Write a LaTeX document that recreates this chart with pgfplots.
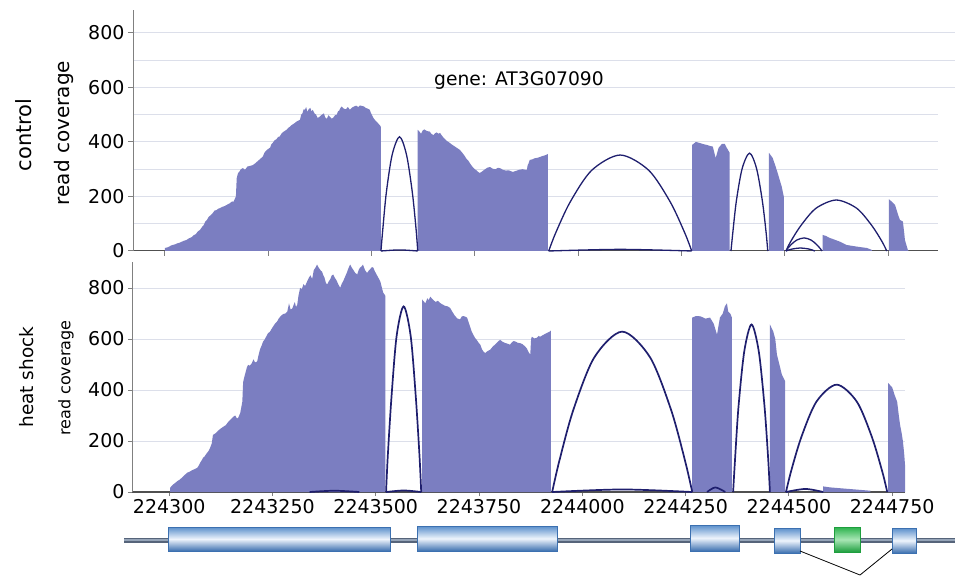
\documentclass[border=0pt]{standalone}
\usepackage{fontspec}
\setmainfont{DejaVu Sans}
\usepackage{pgfplots}
\pgfplotsset{compat=1.18}
\definecolor{cov}{HTML}{7B7EC1}
\definecolor{arcc}{HTML}{1F1F6E}
\definecolor{grd}{HTML}{DCDFEA}
\definecolor{axl}{HTML}{808080}
\definecolor{axx}{HTML}{505050}
\definecolor{exA}{HTML}{5A8FCB}
\definecolor{exB}{HTML}{EEF4FC}
\definecolor{exC}{HTML}{3C70B0}
\definecolor{gnA}{HTML}{2BB24C}
\definecolor{gnB}{HTML}{A8E6B5}
\definecolor{gnC}{HTML}{1E9E3E}
\definecolor{intr}{HTML}{56647A}
\definecolor{intrL}{HTML}{95A4B8}

\begin{document}
\begin{tikzpicture}
% ---------- frame in pixel units: labels and gene model ----------
\begin{axis}[at={(0pt,0pt)}, anchor=south west, scale only axis,
  width=955pt, height=576pt, xmin=0, xmax=955, ymin=0, ymax=576,
  y dir=reverse, hide axis, clip=false]
\node[rotate=90, font=\fontsize{21}{24}\selectfont] at (axis cs:24,135) {control};
\node[rotate=90, font=\fontsize{20}{24}\selectfont] at (axis cs:64,133) {read coverage};
\node[rotate=90, font=\fontsize{18.5}{22}\selectfont] at (axis cs:27,377) {heat shock};
\node[rotate=90, font=\fontsize{16}{20}\selectfont] at (axis cs:66,378) {read coverage};
% gene model
\addplot[intr, line width=5pt] coordinates {(124,540) (955,540)};
\addplot[intrL, line width=1.2pt] coordinates {(124,540) (955,540)};
\addplot[draw=exC, line width=0.4pt, top color=exA, bottom color=exC, middle color=exB]
  coordinates {(168,527) (390,527) (390,551) (168,551)} --cycle;
\addplot[draw=exC, line width=0.4pt, top color=exA, bottom color=exC, middle color=exB]
  coordinates {(417,526) (557,526) (557,551) (417,551)} --cycle;
\addplot[draw=exC, line width=0.4pt, top color=exA, bottom color=exC, middle color=exB]
  coordinates {(690,525) (739,525) (739,551) (690,551)} --cycle;
\addplot[draw=exC, line width=0.4pt, top color=exA, bottom color=exC, middle color=exB]
  coordinates {(774,528) (800,528) (800,553) (774,553)} --cycle;
\addplot[draw=gnC, line width=0.4pt, top color=gnA, bottom color=gnC, middle color=gnB]
  coordinates {(834,527) (860,527) (860,552) (834,552)} --cycle;
\addplot[draw=exC, line width=0.4pt, top color=exA, bottom color=exC, middle color=exB]
  coordinates {(892,528) (916,528) (916,553) (892,553)} --cycle;
\addplot[black, line width=0.8pt] coordinates {(800,551) (860,575) (892,549)};
\end{axis}

% ---------- control panel ----------
\begin{axis}[at={(133pt,325pt)}, anchor=south west, scale only axis,
  width=805pt, height=241pt,
  xmin=-77, xmax=1871, ymin=0, ymax=884,
  axis x line=bottom, axis y line=left,
  x axis line style={axx, line width=1pt, -},
  y axis line style={axl, line width=1pt, -},
  xtick={0,250,500,750,1000,1250,1500,1750}, xticklabels={},
  ytick={0,200,400,600,800}, minor ytick={100,300,500,700},
  ymajorgrids, yminorgrids,
  major grid style={grd, line width=1pt}, minor grid style={grd, line width=1pt},
  tick align=outside, major tick length=5pt, minor tick length=0pt,
  tick style={axl, line width=1pt},
  tick label style={font=\fontsize{19}{22}\selectfont},
  /pgf/number format/assume math mode=true,
  clip=false]
\draw[grd, line width=1pt] (axis cs:1871,600) -- ++(17pt,0);
\draw[grd, line width=1pt] (axis cs:1871,700) -- ++(17pt,0);
\draw[grd, line width=1pt] (axis cs:1871,800) -- ++(17pt,0);
\node[font=\fontsize{18.7}{22}\selectfont] at (axis cs:857,627) {gene: AT3G07090};
% coverage
\addplot[fill=cov, draw=none] coordinates {(0,0) (0,11) (8,14) (15,20) (19,22) (26,25) (30,28) (37,31) (41,34) (47,38) (52,40) (58,46) (65,51) (70,58) (75,62) (80,72) (85,77) (90,88) (94,95) (98,108) (102,114) (106,125) (110,130) (116,139) (120,148) (125,150) (129,155) (133,157) (139,162) (145,165) (151,170) (157,175) (163,182) (166,180) (169,190) (172,200) (174,267) (177,285) (180,290) (184,300) (189,304) (194,298) (200,310) (206,312) (213,315) (219,322) (225,330) (231,338) (237,346) (241,360) (245,368) (248,372) (252,376) (255,380) (258,392) (261,396) (265,405) (270,410) (274,418) (278,420) (282,430) (286,436) (290,440) (295,445) (299,452) (303,456) (307,462) (311,466) (315,470) (319,475) (323,478) (327,481) (330,500) (333,505) (336,520) (339,518) (342,528) (345,510) (348,520) (352,525) (355,512) (358,518) (362,505) (366,500) (370,488) (375,493) (380,500) (385,505) (388,490) (392,485) (396,498) (399,493) (404,485) (408,490) (412,498) (416,500) (419,512) (422,515) (425,525) (428,530) (433,522) (438,520) (443,528) (448,518) (453,526) (458,530) (463,533) (468,528) (472,534) (477,532) (482,530) (486,525) (491,522) (496,518) (499,505) (503,493) (506,485) (510,478) (515,470) (520,462) (523,455) (523,0)} --cycle;
\addplot[fill=cov, draw=none] coordinates {(612,0) (612,444) (616,438) (620,430) (624,442) (628,446) (634,440) (641,438) (645,430) (650,425) (654,432) (658,435) (662,430) (666,433) (672,420) (678,410) (684,402) (690,396) (695,390) (700,385) (707,378) (714,371) (720,360) (725,350) (730,338) (735,330) (740,318) (745,308) (750,300) (755,295) (758,290) (762,286) (768,292) (775,300) (781,306) (787,308) (793,302) (800,300) (806,305) (811,304) (818,298) (825,295) (832,296) (842,290) (850,294) (858,298) (866,300) (876,297) (878,315) (880,320) (883,334) (889,336) (895,340) (902,342) (908,345) (913,348) (918,350) (922,352) (927,356) (927,0)} --cycle;
\addplot[fill=cov, draw=none] coordinates {(1276,0) (1276,389) (1285,400) (1295,396) (1303,392) (1312,389) (1320,385) (1326,383) (1333,341) (1340,378) (1348,393) (1355,393) (1360,378) (1367,360) (1367,0)} --cycle;
\addplot[fill=cov, draw=none] coordinates {(1462,0) (1462,360) (1471,341) (1478,310) (1483,286) (1493,235) (1498,198) (1498,0)} --cycle;
\addplot[fill=cov, draw=none] coordinates {(1592,0) (1592,59) (1600,55) (1609,48) (1620,42) (1634,34) (1650,22) (1675,16) (1699,11) (1711,4) (1711,0)} --cycle;
\addplot[fill=cov, draw=none] coordinates {(1752,0) (1752,190) (1760,180) (1767,169) (1775,130) (1779,114) (1786,108) (1789,70) (1791,40) (1798,4) (1800,0)} --cycle;
% junction arcs
\addplot[arcc, line width=1.3pt, smooth] coordinates {(523,0) (527.5,80) (536,214) (550,352) (568,419) (585,352) (599,214) (608,80) (612,0)};
\addplot[arcc, line width=1.3pt, smooth] coordinates {(929,0) (946,67) (981,180) (1033,296) (1102,352) (1171,296) (1223,180) (1258,67) (1275,0)};
\addplot[arcc, line width=1.3pt, smooth] coordinates {(1370,0) (1374.5,68) (1383,183) (1397,302) (1415,359) (1432,302) (1446,183) (1455,68) (1459,0)};
\addplot[arcc, line width=1.3pt, smooth] coordinates {(1503,0) (1515,36) (1540,95) (1576,157) (1625,187) (1674,157) (1710,95) (1735,36) (1747,0)};
\addplot[arcc, line width=1.3pt, smooth] coordinates {(1503,0) (1507,9) (1516,24) (1529,40) (1547,48) (1564,40) (1577,24) (1586,9) (1590,0)};
\addplot[arcc, line width=1.3pt, smooth] coordinates {(1503,0) (1510,4) (1521,8) (1538,11) (1556,8) (1566,4) (1573,0)};
\addplot[arcc, line width=1.3pt, smooth] coordinates {(929,0) (1102,6) (1275,0)};
\addplot[arcc, line width=1.3pt, smooth] coordinates {(523,0) (568,4) (612,0)};
\end{axis}

% ---------- heat shock panel ----------
\begin{axis}[at={(132pt,84pt)}, anchor=south west, scale only axis,
  width=773pt, height=230pt,
  xmin=-90, xmax=1781, ymin=0, ymax=902,
  axis x line=bottom, axis y line=left,
  x axis line style={axx, line width=1.2pt, -},
  y axis line style={axl, line width=1pt, -},
  xtick={0,250,500,750,1000,1250,1500,1750},
  xticklabels={224300,2243250,2243500,2243750,2244000,2244250,2244500,2244750},
  ytick={0,200,400,600,800},
  ymajorgrids,
  major grid style={grd, line width=1pt},
  tick align=outside, major tick length=4pt,
  tick style={axl, line width=1pt},
  tick label style={font=\fontsize{19}{22}\selectfont},
  /pgf/number format/assume math mode=true]
\addplot[fill=cov, draw=none] coordinates {(2,0) (2,16) (6,24) (10,30) (15,36) (19,42) (25,48) (30,55) (37,66) (44,76) (50,80) (55,85) (62,90) (68,95) (72,105) (75,115) (79,125) (82,134) (86,140) (90,150) (95,160) (99,173) (103,190) (106,224) (112,230) (118,240) (124,248) (131,256) (137,262) (143,275) (149,285) (155,295) (160,300) (164,288) (167,291) (172,310) (177,354) (179,431) (182,452) (185,470) (188,488) (191,499) (195,495) (200,505) (204,520) (208,508) (213,512) (216,535) (220,560) (224,575) (227,589) (231,598) (235,610) (239,622) (244,629) (248,640) (252,650) (256,660) (261,668) (265,680) (270,690) (276,698) (281,700) (286,708) (290,740) (294,715) (298,720) (304,745) (307,725) (310,735) (313,770) (317,801) (321,795) (325,815) (329,808) (334,826) (338,840) (342,850) (346,835) (350,870) (354,880) (358,892) (361,882) (364,875) (367,868) (370,864) (373,850) (376,840) (379,822) (382,813) (386,825) (390,835) (393,848) (397,853) (401,840) (405,830) (410,812) (414,801) (418,818) (421,826) (426,845) (430,860) (434,878) (438,892) (442,880) (446,870) (450,860) (455,853) (459,872) (462,880) (466,885) (469,892) (474,870) (479,859) (483,868) (487,875) (491,882) (494,880) (498,865) (503,850) (507,838) (511,826) (515,800) (518,782) (521,775) (523,770) (523,0)} --cycle;
\addplot[fill=cov, draw=none] coordinates {(612,0) (612,755) (616,748) (620,740) (625,760) (628,752) (632,766) (638,755) (645,745) (650,750) (656,741) (662,735) (668,730) (674,728) (680,722) (686,705) (692,690) (698,680) (704,677) (708,688) (712,690) (716,688) (721,684) (725,665) (728,650) (732,630) (736,617) (740,605) (745,595) (749,585) (753,578) (757,560) (761,550) (765,545) (770,552) (777,558) (783,570) (790,580) (796,590) (801,597) (806,590) (812,585) (818,582) (825,578) (830,588) (834,592) (838,590) (844,585) (849,584) (855,580) (862,570) (866,562) (870,548) (874,539) (876,600) (878,609) (884,602) (890,605) (894,612) (898,609) (904,615) (910,620) (916,625) (920,628) (924,633) (924,0)} --cycle;
\addplot[fill=cov, draw=none] coordinates {(1266,0) (1266,684) (1275,690) (1286,689) (1298,680) (1309,684) (1318,660) (1326,617) (1333,684) (1340,700) (1345,728) (1350,740) (1353,708) (1358,700) (1362,684) (1362,0)} --cycle;
\addplot[fill=cov, draw=none] coordinates {(1454,0) (1454,657) (1462,630) (1467,600) (1471,539) (1477,500) (1483,460) (1491,434) (1491,0)} --cycle;
\addplot[fill=cov, draw=none] coordinates {(1583,0) (1583,22) (1600,18) (1630,14) (1660,10) (1697,5) (1697,0)} --cycle;
\addplot[fill=cov, draw=none] coordinates {(1740,0) (1740,428) (1750,410) (1756,380) (1762,354) (1766,300) (1769,264) (1773,230) (1776,198) (1779,150) (1781,107) (1781,0)} --cycle;
% junction arcs
\addplot[arcc, line width=1.7pt, smooth] coordinates {(525,0) (529,138) (538,371) (550.5,612) (567.5,728) (584.5,612) (597,371) (606,138) (610,0)};
\addplot[arcc, line width=1.7pt, smooth] coordinates {(927,0) (944,120) (978,321) (1029,528) (1096.5,629) (1164,528) (1215,321) (1249,120) (1266,0)};
\addplot[arcc, line width=1.7pt, smooth] coordinates {(1365,0) (1369.5,125) (1378,335) (1392,552) (1409.5,657) (1427,552) (1441,335) (1450,125) (1454,0)};
\addplot[arcc, line width=1.7pt, smooth] coordinates {(1493,0) (1505,80) (1530,215) (1566.5,354) (1615.5,421) (1664.5,354) (1701,215) (1726,80) (1738,0)};
\addplot[arcc, line width=1.7pt, smooth] coordinates {(927,0) (1097,10) (1266,0)};
\addplot[arcc, line width=1.7pt, smooth] coordinates {(1302,0) (1322,18) (1346,0)};
\addplot[arcc, line width=1.7pt, smooth] coordinates {(1493,0) (1540,12) (1583,0)};
\addplot[arcc, line width=1.7pt, smooth] coordinates {(525,0) (568,6) (610,0)};
\addplot[arcc, line width=1.7pt, smooth] coordinates {(340,0) (400,5) (460,0)};
\end{axis}
\pgfresetboundingbox
\path (0pt,0pt) rectangle (955pt,576pt);
\end{tikzpicture}
\end{document}
